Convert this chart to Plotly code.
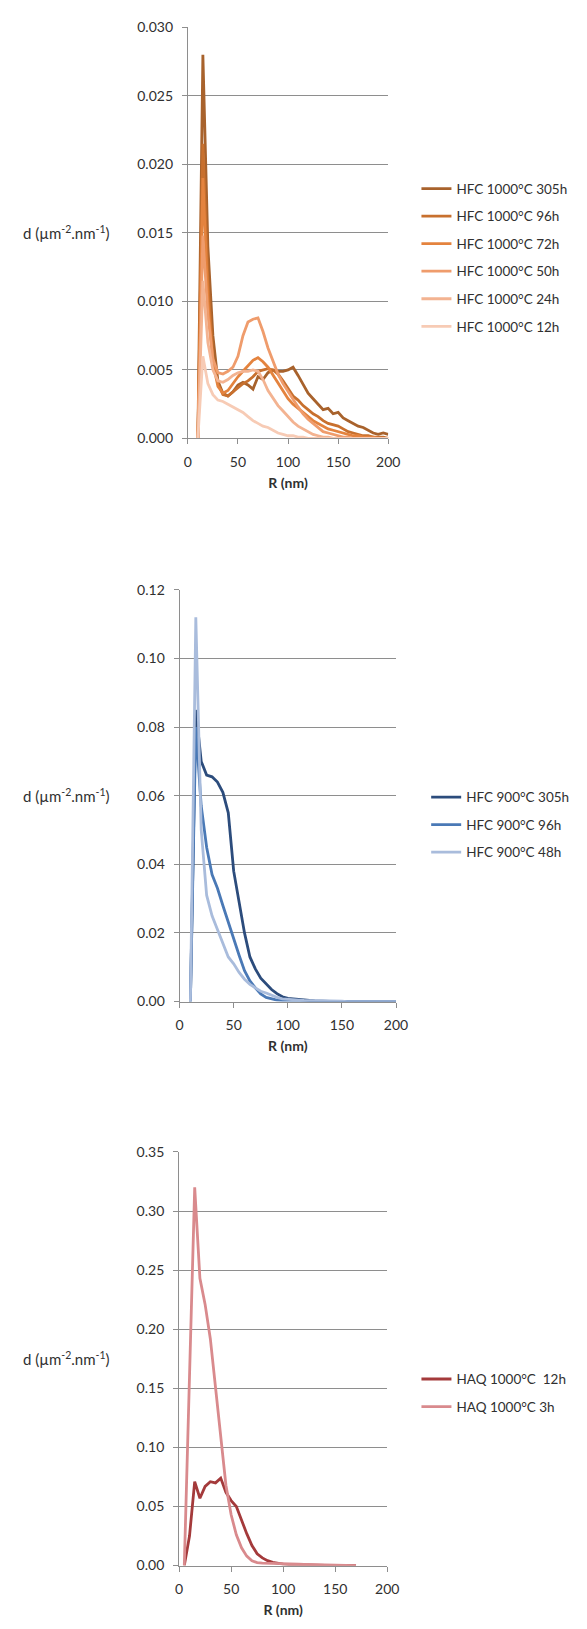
import plotly.graph_objects as go

# ---------------- data ----------------
R1 = [10, 15, 20, 25, 30, 35, 40, 45, 50, 55, 60, 65, 70, 75, 80, 85, 90, 95, 100, 105,
      110, 115, 120, 125, 130, 135, 140, 145, 150, 155, 160, 165, 170, 175, 180, 185, 190, 195, 200]

hfc1000_305h = [0, 0.0280, 0.0140, 0.0075, 0.0042, 0.0033, 0.0031, 0.0034, 0.0039, 0.0041,
                0.0039, 0.0036, 0.0045, 0.0043, 0.0048, 0.0050, 0.0049, 0.0049, 0.0050, 0.0052,
                0.0046, 0.0039, 0.0033, 0.0029, 0.0025, 0.0021, 0.0022, 0.0018, 0.0019, 0.0015,
                0.0013, 0.0011, 0.0009, 0.0008, 0.0006, 0.0004, 0.0003, 0.0004, 0.0003]
hfc1000_96h = [0, 0.0215, 0.0115, 0.0060, 0.0040, 0.0032, 0.0031, 0.0034, 0.0037, 0.0040,
               0.0042, 0.0045, 0.0049, 0.0050, 0.0051, 0.0050, 0.0047, 0.0042, 0.0036, 0.0031,
               0.0028, 0.0024, 0.0021, 0.0018, 0.0016, 0.0013, 0.0011, 0.0010, 0.0009, 0.0007,
               0.0005, 0.0004, 0.0003, 0.0002, 0.0002, 0.0001, 0.0001, 0.0001, 0.0000]
hfc1000_72h = [0, 0.0190, 0.0100, 0.0055, 0.0038, 0.0033, 0.0035, 0.0040, 0.0045, 0.0049,
               0.0053, 0.0057, 0.0059, 0.0056, 0.0052, 0.0046, 0.0040, 0.0034, 0.0029, 0.0025,
               0.0022, 0.0019, 0.0016, 0.0013, 0.0011, 0.0009, 0.0007, 0.0006, 0.0005, 0.0004,
               0.0003, 0.0002, 0.0002, 0.0001, 0.0001, 0.0001, 0, 0, 0]
hfc1000_50h = [0, 0.0148, 0.0090, 0.0058, 0.0048, 0.0047, 0.0049, 0.0052, 0.0060, 0.0075,
               0.0085, 0.0087, 0.0088, 0.0078, 0.0066, 0.0056, 0.0047, 0.0040, 0.0034, 0.0028,
               0.0023, 0.0018, 0.0014, 0.0011, 0.0008, 0.0005, 0.0004, 0.0003, 0.0002, 0.0001,
               0.0001, 0, 0, 0, 0, 0, 0, 0, 0]
hfc1000_24h = [0, 0.0115, 0.0070, 0.0050, 0.0042, 0.0041, 0.0043, 0.0046, 0.0048, 0.0049,
               0.0049, 0.0050, 0.0049, 0.0043, 0.0035, 0.0029, 0.0024, 0.0020, 0.0016, 0.0012,
               0.0009, 0.0007, 0.0005, 0.0003, 0.0002, 0.0001, 0.0001, 0, 0, 0,
               0, 0, 0, 0, 0, 0, 0, 0, 0]
hfc1000_12h = [0, 0.0060, 0.0040, 0.0032, 0.0028, 0.0027, 0.0025, 0.0023, 0.0021, 0.0019,
               0.0016, 0.0013, 0.0011, 0.0009, 0.0008, 0.0006, 0.0004, 0.0003, 0.0002, 0.0002,
               0.0001, 0.0001, 0, 0, 0, 0, 0, 0, 0, 0,
               0, 0, 0, 0, 0, 0, 0, 0, 0]

R2 = [10, 15, 20, 25, 30, 35, 40, 45, 50, 55, 60, 65, 70, 75, 80, 85, 90, 95, 100, 105,
      110, 115, 120, 125, 130, 135, 140, 145, 150, 155, 160, 165, 170, 175, 180, 185, 190, 195, 200]
hfc900_305h = [0, 0.085, 0.070, 0.066, 0.0655, 0.064, 0.061, 0.055, 0.038, 0.029,
               0.020, 0.013, 0.0095, 0.0068, 0.0050, 0.0035, 0.0023, 0.0014, 0.0009, 0.0007,
               0.0005, 0.0004, 0.0003, 0.0002, 0.0001, 0, 0, 0, 0, 0,
               0, 0, 0, 0, 0, 0, 0, 0, 0]
hfc900_96h = [0, 0.080, 0.057, 0.045, 0.037, 0.033, 0.028, 0.023, 0.018, 0.0135,
              0.0090, 0.0060, 0.0040, 0.0022, 0.0012, 0.0007, 0.0004, 0.0003, 0.0002, 0.0001,
              0, 0, 0, 0, 0, 0, 0, 0, 0, 0,
              0, 0, 0, 0, 0, 0, 0, 0, 0]
hfc900_48h = [0, 0.112, 0.050, 0.031, 0.025, 0.021, 0.017, 0.013, 0.011, 0.0085,
              0.0065, 0.0050, 0.0040, 0.0030, 0.0025, 0.0018, 0.0012, 0.0008, 0.0006, 0.0005,
              0.0004, 0.0003, 0.0003, 0.0002, 0.0002, 0.0001, 0.0001, 0.0001, 0.0001, 0,
              0, 0, 0, 0, 0, 0, 0, 0, 0]

R3 = [5, 10, 15, 20, 25, 30, 35, 40, 45, 50, 55, 60, 65, 70, 75, 80, 85, 90, 95, 100,
      105, 110, 115, 120, 125, 130, 135, 140, 145, 150, 155, 160, 165, 170]
haq1000_12h = [0, 0.025, 0.071, 0.057, 0.067, 0.071, 0.070, 0.074, 0.062, 0.055,
               0.050, 0.038, 0.027, 0.017, 0.010, 0.0065, 0.0042, 0.0028, 0.0018, 0.0012,
               0.0009, 0.0007, 0.0005, 0.0004, 0.0004, 0.0003, 0.0002, 0.0001, 0.0001, 0,
               0, 0, 0, 0]
haq1000_3h = [0, 0.150, 0.320, 0.243, 0.221, 0.192, 0.150, 0.105, 0.068, 0.043,
              0.026, 0.015, 0.008, 0.004, 0.0025, 0.0020, 0.0018, 0.0016, 0.0015, 0.0014,
              0.0013, 0.0012, 0.0012, 0.0011, 0.0010, 0.0010, 0.0009, 0.0008, 0.0008, 0.0007,
              0.0006, 0.0005, 0.0004, 0]

panel1 = [("HFC 1000°C 305h", hfc1000_305h, "#a8622c"),
          ("HFC 1000°C 96h", hfc1000_96h, "#c8702e"),
          ("HFC 1000°C 72h", hfc1000_72h, "#e4833e"),
          ("HFC 1000°C 50h", hfc1000_50h, "#ef9c6c"),
          ("HFC 1000°C 24h", hfc1000_24h, "#f3b391"),
          ("HFC 1000°C 12h", hfc1000_12h, "#f7cbb5")]
panel2 = [("HFC 900°C 305h", hfc900_305h, "#2c4c7c"),
          ("HFC 900°C 96h", hfc900_96h, "#4a79b6"),
          ("HFC 900°C 48h", hfc900_48h, "#a9bcdc")]
panel3 = [("HAQ 1000°C  12h", haq1000_12h, "#a43a3b"),
          ("HAQ 1000°C 3h", haq1000_3h, "#d98a8d")]

W, H = 587, 1629
FONT = "Lato, 'Open Sans', sans-serif"
TXT = "#303030"
GRID = "#8e8e8e"
LW = 2.8


def px_x(p):
    return p / W


def px_y(p):
    return 1 - p / H


fig = go.Figure()

for k, (name, ys, col) in enumerate(panel1):
    fig.add_trace(go.Scatter(x=R1, y=ys, mode="lines", name=name, line=dict(color=col, width=LW),
                             xaxis="x", yaxis="y", legend="legend", legendgroup=f"a{k}"))
for k, (name, ys, col) in enumerate(panel2):
    fig.add_trace(go.Scatter(x=R2, y=ys, mode="lines", name=name, line=dict(color=col, width=LW),
                             xaxis="x2", yaxis="y2", legend="legend2", legendgroup=f"b{k}"))
for k, (name, ys, col) in enumerate(panel3):
    fig.add_trace(go.Scatter(x=R3, y=ys, mode="lines", name=name, line=dict(color=col, width=LW),
                             xaxis="x3", yaxis="y3", legend="legend3", legendgroup=f"c{k}"))

panels = [
    dict(xd=(189, 395), yd=(18.5, 434), yr=[0, 0.030], dt=0.005, fmt=".3f"),
    dict(xd=(180.5, 403), yd=(587, 1003), yr=[0, 0.12], dt=0.02, fmt=".2f"),
    dict(xd=(180, 394), yd=(1155, 1573), yr=[0, 0.35], dt=0.05, fmt=".2f"),
]

lay = {}
for i, p in enumerate(panels):
    sx = "" if i == 0 else str(i + 1)
    lay["xaxis" + sx] = dict(
        domain=[px_x(p["xd"][0]), px_x(p["xd"][1])], anchor="y" + sx,
        range=[0, 200], dtick=50, tick0=0, showgrid=False, zeroline=False,
        showline=True, linecolor=GRID, linewidth=1, ticks="outside", ticklen=5,
        tickcolor=GRID, tickfont=dict(family=FONT, size=14, color=TXT),
        ticklabelstandoff=6,
        title=dict(text="<b>R (nm)</b>", font=dict(family=FONT, size=14, color=TXT), standoff=8),
    )
    lay["yaxis" + sx] = dict(
        domain=[px_y(p["yd"][1]), px_y(p["yd"][0])], anchor="x" + sx,
        range=p["yr"], dtick=p["dt"], tick0=0, tickformat=p["fmt"],
        showgrid=True, gridcolor=GRID, gridwidth=1, zeroline=False,
        showline=True, linecolor=GRID, linewidth=1, ticks="outside", ticklen=5,
        tickcolor=GRID, tickfont=dict(family=FONT, size=14, color=TXT),
        ticklabelstandoff=6,
    )

legend_common = dict(font=dict(family=FONT, size=13.5, color=TXT), xanchor="left", yanchor="top",
                     bgcolor="rgba(0,0,0,0)", itemwidth=30, tracegroupgap=7, traceorder="grouped")
lay["legend"] = dict(x=px_x(424), y=px_y(166), **legend_common)
lay["legend2"] = dict(x=px_x(434), y=px_y(781), **legend_common)
lay["legend3"] = dict(x=px_x(424), y=px_y(1369), **legend_common)

fig.update_layout(
    width=W, height=H, margin=dict(l=0, r=0, t=0, b=0),
    paper_bgcolor="white", plot_bgcolor="white", showlegend=True,
    font=dict(family=FONT, size=14, color=TXT),
    **lay,
)

ytitle = "d (µm<sup>-2</sup>.nm<sup>-1</sup>)"
for p in panels:
    yc = (p["yd"][0] + p["yd"][1]) / 2
    fig.add_annotation(text=ytitle, xref="paper", yref="paper", x=px_x(64), y=px_y(yc),
                       xanchor="center", yanchor="middle", showarrow=False,
                       font=dict(family=FONT, size=15, color=TXT))

fig.write_html("out.html", config={"displayModeBar": False},
               post_script="document.body.style.margin='0';document.body.style.overflow='hidden';")
